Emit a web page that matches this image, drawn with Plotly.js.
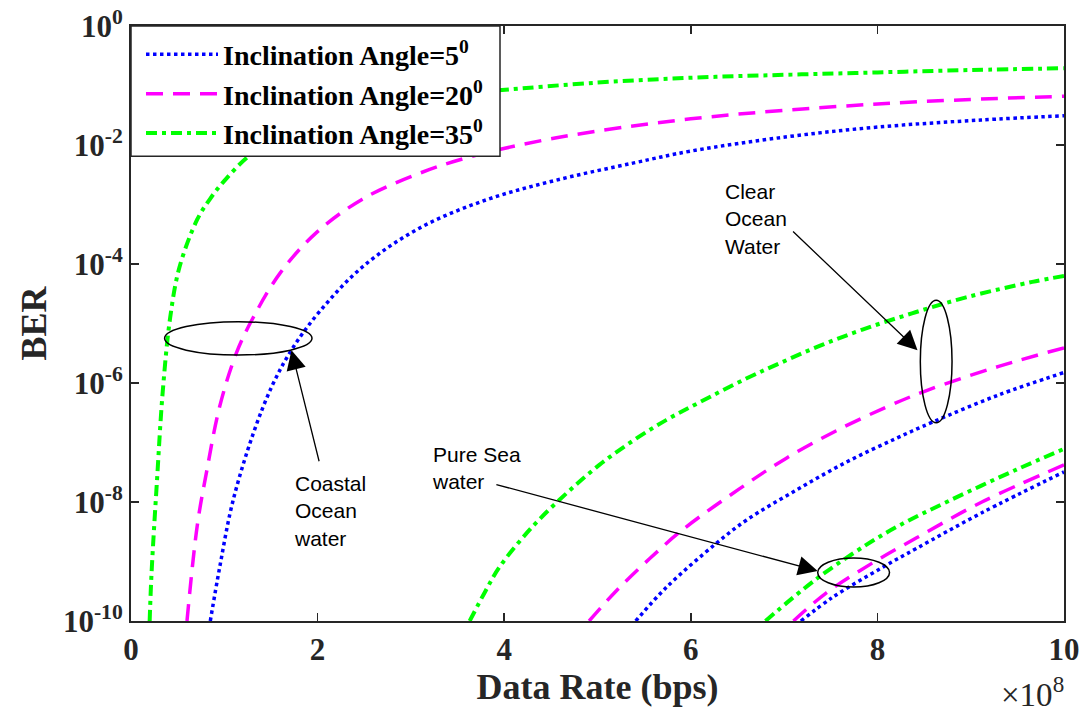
<!DOCTYPE html>
<html>
<head>
<meta charset="utf-8">
<script src="https://cdn.plot.ly/plotly-3.0.1.min.js"></script>
<style>html,body{margin:0;padding:0;background:#fff;}#chart{width:1085px;height:713px;}</style>
</head>
<body>
<div id="chart"></div>
<script>
// Data rate in units of 1e8 bps, BER values
// Coastal ocean water
const coastal5_x  = [0.85, 0.95, 1.09, 1.31, 1.52, 1.73, 2.02, 2.48, 3.09, 3.81, 4.56, 5.39, 6.0, 7.04, 8.0, 9.11, 10];
const coastal5_y  = [1e-10, 7.9e-10, 1e-8, 1.41e-7, 9.5e-7, 3.8e-6, 1.58e-5, 8.9e-5, 4.0e-4, 1.2e-3, 2.57e-3, 5.0e-3, 7.9e-3, 1.38e-2, 2.0e-2, 2.63e-2, 3.1e-2];
const coastal20_x = [0.6, 0.71, 0.81, 0.95, 1.13, 1.31, 1.6, 1.99, 2.48, 3.06, 3.63, 4.56, 6.0, 8.0, 10];
const coastal20_y = [1e-10, 4.0e-9, 3.2e-8, 4.0e-7, 3.2e-6, 1.26e-5, 7.1e-5, 3.4e-4, 1.23e-3, 3.2e-3, 6.3e-3, 1.32e-2, 2.75e-2, 4.9e-2, 6.6e-2];
const coastal35_x = [0.2, 0.22, 0.28, 0.34, 0.42, 0.52, 0.71, 0.85, 1.0, 1.25, 1.6, 2.0, 2.5, 3.0, 3.5, 3.94, 5.0, 6.0, 7.0, 8.0, 9.0, 10];
const coastal35_y = [1e-10, 6.3e-10, 2.5e-8, 7.1e-7, 1.26e-5, 8.9e-5, 5.6e-4, 1.26e-3, 2.5e-3, 6.3e-3, 1.51e-2, 2.63e-2, 4.2e-2, 5.75e-2, 7.2e-2, 8.3e-2, 0.112, 0.135, 0.151, 0.166, 0.182, 0.195];
// Clear ocean water
const clear5_x  = [5.41, 5.74, 6.27, 6.6, 7.13, 7.67, 8.2, 8.59, 9.3, 10];
const clear5_y  = [1e-10, 3.7e-10, 2.0e-9, 5.0e-9, 1.58e-8, 4.7e-8, 1.17e-7, 2.2e-7, 6.3e-7, 1.5e-6];
const clear20_x = [4.91, 5.2, 5.56, 5.91, 6.52, 7.02, 7.56, 8.09, 8.52, 9.3, 10];
const clear20_y = [1e-10, 3.2e-10, 1.12e-9, 3.4e-9, 1.66e-8, 5.4e-8, 1.58e-7, 3.9e-7, 7.4e-7, 1.9e-6, 3.9e-6];
const clear35_x = [3.63, 3.8, 3.95, 4.3, 4.67, 5.02, 5.38, 5.74, 6.09, 6.6, 6.95, 7.38, 7.84, 8.37, 8.95, 9.66, 10];
const clear35_y = [1e-10, 3.2e-10, 8.1e-10, 3.8e-9, 1.41e-8, 4.2e-8, 1.07e-7, 2.4e-7, 4.7e-7, 1.2e-6, 2.14e-6, 4.2e-6, 7.9e-6, 1.48e-5, 2.75e-5, 5.0e-5, 6.3e-5];
// Pure sea water
const pure5_x  = [7.18, 7.52, 8.05, 8.42, 9.12, 10];
const pure5_y  = [1e-10, 2.5e-10, 7.9e-10, 1.66e-9, 6.6e-9, 3.2e-8];
const pure20_x = [7.1, 7.45, 7.94, 8.42, 9.12, 10];
const pure20_y = [1e-10, 2.95e-10, 9.3e-10, 2.5e-9, 1.0e-8, 4.2e-8];
const pure35_x = [6.8, 7.34, 7.88, 8.23, 8.77, 9.49, 10];
const pure35_y = [1e-10, 5e-10, 1.9e-9, 4.0e-9, 1.05e-8, 3.5e-8, 7.8e-8];

const legendNames = ['Inclination Angle=5<sup>0</sup>', 'Inclination Angle=20<sup>0</sup>', 'Inclination Angle=35<sup>0</sup>'];
const yTickVals = [1e-10, 1e-8, 1e-6, 1e-4, 1e-2, 1];
const yTickText = ['10<sup>-10</sup>', '10<sup>-8</sup>', '10<sup>-6</sup>', '10<sup>-4</sup>', '10<sup>-2</sup>', '10<sup>0</sup>'];
const xTickVals = [0, 2, 4, 6, 8, 10];

const styles = [
  {color: '#0000FF', dash: 'dot', width: 3.5},
  {color: '#FF00FF', dash: '17px,10px', width: 3.5},
  {color: '#00FF00', dash: '11px,5px,4px,5px', width: 4}
];

function tr(x, y, i, show) {
  return {x: x, y: y, type: 'scatter', mode: 'lines', name: legendNames[i], legendgroup: 'g' + i,
    showlegend: show, line: {color: styles[i].color, dash: styles[i].dash, width: styles[i].width, shape: 'spline', smoothing: 1},
    hoverinfo: 'skip'};
}

const data = [
  tr(coastal5_x, coastal5_y, 0, true),
  tr(coastal20_x, coastal20_y, 1, true),
  tr(coastal35_x, coastal35_y, 2, true),
  tr(clear5_x, clear5_y, 0, false),
  tr(clear20_x, clear20_y, 1, false),
  tr(clear35_x, clear35_y, 2, false),
  tr(pure5_x, pure5_y, 0, false),
  tr(pure20_x, pure20_y, 1, false),
  tr(pure35_x, pure35_y, 2, false)
];

const serif = 'Liberation Serif, Times New Roman, serif';
const sans = 'Liberation Sans, Arial, sans-serif';
const axisCol = '#262626';

function ell(x0, x1, y0, y1) {
  return {type: 'circle', xref: 'x', yref: 'y', x0: x0, x1: x1, y0: y0, y1: y1, line: {color: '#000', width: 1.5}};
}
function arrow(xh, yh, xt, yt) {
  return {x: xh, y: yh, ax: xt, ay: yt, xref: 'x', yref: 'y', axref: 'x', ayref: 'y', text: '', showarrow: true,
    arrowhead: 2, arrowsize: 3, arrowwidth: 1.3, arrowcolor: '#000'};
}
function label(x, y, t) {
  return {x: x, y: y, xref: 'x', yref: 'y', text: t, showarrow: false, xanchor: 'left', yanchor: 'middle', align: 'left',
    font: {family: sans, size: 21, color: '#000'}};
}

const layout = {
  width: 1085, height: 713,
  margin: {l: 131, r: 21, t: 26, b: 92},
  paper_bgcolor: '#fff', plot_bgcolor: '#fff',
  showlegend: true,
  legend: {x: 0.0107, y: 0.994, xanchor: 'left', yanchor: 'top', bgcolor: 'rgba(0,0,0,0)', borderwidth: 0,
    font: {family: serif, size: 28, color: '#000', weight: 'bold'}, itemwidth: 72, tracegroupgap: 0},
  xaxis: {range: [0, 10], tickvals: xTickVals, ticks: 'inside', ticklen: 8, tickwidth: 1.5, tickcolor: axisCol,
    showline: true, linecolor: axisCol, linewidth: 2, mirror: 'ticks', showgrid: false, zeroline: false,
    tickfont: {family: serif, size: 31, color: '#262626', weight: 'bold'},
    title: {text: 'Data Rate (bps)', font: {family: serif, size: 36, color: '#262626', weight: 'bold'}, standoff: 5}},
  yaxis: {type: 'log', range: [-10, 0], tickvals: yTickVals, ticktext: yTickText, ticks: 'inside', ticklen: 8, tickwidth: 1.5, tickcolor: axisCol,
    showline: true, linecolor: axisCol, linewidth: 2, mirror: 'ticks', showgrid: false, zeroline: false,
    tickfont: {family: serif, size: 31, color: '#262626', weight: 'bold'},
    title: {text: 'BER', font: {family: serif, size: 36, color: '#262626', weight: 'bold'}, standoff: 5}},
  shapes: [
    {type: 'rect', xref: 'paper', yref: 'paper', x0: 0, x1: 0.3955, y0: 0.781, y1: 1, fillcolor: '#fff', layer: 'above',
     line: {color: axisCol, width: 1.5}},
    ell(0.36, 1.94, Math.pow(10, -5.53), Math.pow(10, -4.97)),
    ell(8.46, 8.8, Math.pow(10, -6.67), Math.pow(10, -4.61)),
    ell(7.36, 8.13, Math.pow(10, -9.43), Math.pow(10, -8.94))
  ],
  annotations: [
    arrow(1.72, -5.45, 2.02, -7.34),
    arrow(8.43, -5.45, 7.08, -3.43),
    arrow(7.36, -9.16, 3.9, -7.7),
    label(1.73, -8.15, 'Coastal<br>Ocean<br>water'),
    label(6.34, -3.24, 'Clear<br>Ocean<br>Water'),
    label(3.2, -7.43, 'Pure Sea<br>water'),
    {x: 1, y: 0, xref: 'paper', yref: 'paper', xanchor: 'right', yanchor: 'top', yshift: -48, xshift: 2,
     text: '\u00d710<sup>8</sup>', showarrow: false, font: {family: serif, size: 33, color: '#262626'}}
  ]
};

Plotly.newPlot('chart', data, layout, {staticPlot: true, displayModeBar: false});
</script>
</body>
</html>
